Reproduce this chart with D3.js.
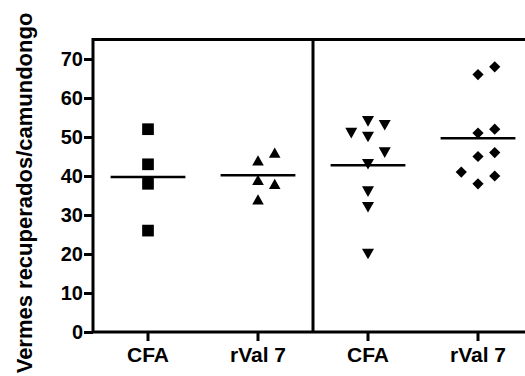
<!DOCTYPE html>
<html>
<head>
<meta charset="utf-8">
<script src="https://cdn.jsdelivr.net/npm/d3@7/dist/d3.min.js"></script>
<style>
  html, body { margin: 0; padding: 0; background: #fff; }
  svg { display: block; font-family: "Liberation Sans", Arial, Helvetica, sans-serif; font-weight: bold; }
</style>
</head>
<body>
<svg id="chart" width="525" height="376"></svg>
<script>
// Worms recovered per mouse, two experiments (CFA control vs rVal 7)
const groupLabels = ["CFA", "rVal 7", "CFA", "rVal 7"];
const cfaExp1   = [52, 43, 38, 26];
const rval7Exp1 = [44, 46, 39, 38, 34];
const cfaExp2   = [50, 53, 51, 54, 43, 46, 32, 36, 20];
const rval7Exp2 = [66, 68, 51, 52, 45, 46, 38, 40, 41];
const yTicks = [0, 10, 20, 30, 40, 50, 60, 70];
const yTitle = "Vermes recuperados/camundongo";

const groups = [cfaExp1, rval7Exp1, cfaExp2, rval7Exp2];

const svg = d3.select("#chart");
const plotL = 93, plotR = 533, plotT = 39.5, plotB = 332;

const x = d3.scaleBand().domain(d3.range(groups.length)).range([plotL, plotR]).padding(0);
const y = d3.scaleLinear().domain([0, 75]).range([plotB, plotT]);
const bw = x.bandwidth();

// Marker shapes, each centred on its bounding box; size is the box width
const mk = (fn) => ({ draw: fn });
const shapes = [
  mk((c, s) => { const h = s / 2; c.moveTo(-h, -h); c.lineTo(h, -h); c.lineTo(h, h); c.lineTo(-h, h); c.closePath(); }),
  mk((c, s) => { const w = s / 2, h = s * 0.44; c.moveTo(0, -h); c.lineTo(w, h); c.lineTo(-w, h); c.closePath(); }),
  mk((c, s) => { const w = s / 2, h = s * 0.44; c.moveTo(-w, -h); c.lineTo(w, -h); c.lineTo(0, h); c.closePath(); }),
  mk((c, s) => { const h = s / 2; c.moveTo(0, -h); c.lineTo(h, 0); c.lineTo(0, h); c.lineTo(-h, 0); c.closePath(); })
];
const shapeSize = [11.7, 11.6, 12, 11.2];

// Simple column-scatter dodge: centre first, then right, then left
function dodge(values, minGap) {
  const placed = [];
  return values.map(v => {
    const py = y(v);
    const order = [0, 1, -1];
    let slot = order.find(s => placed.every(p => p.slot !== s || Math.abs(p.py - py) >= minGap));
    if (slot === undefined) {
      slot = d3.greatest(order, s => d3.min(placed.filter(p => p.slot === s), p => Math.abs(p.py - py)) ?? Infinity);
    }
    placed.push({ py, slot });
    return { v, slot };
  });
}

// Frame
svg.append("rect")
  .attr("x", plotL).attr("y", plotT)
  .attr("width", plotR - plotL).attr("height", plotB - plotT)
  .attr("fill", "none").attr("stroke", "#000").attr("stroke-width", 3);

// Divider between the two experiments
svg.append("line")
  .attr("x1", x(2)).attr("x2", x(2))
  .attr("y1", plotT).attr("y2", plotB)
  .attr("stroke", "#000").attr("stroke-width", 3);

// Axes
const yAxis = svg.append("g")
  .attr("transform", `translate(${plotL},0)`)
  .call(d3.axisLeft(y).tickValues(yTicks).tickSize(9).tickPadding(1));
const xAxis = svg.append("g")
  .attr("transform", `translate(0,${plotB})`)
  .call(d3.axisBottom(x).tickSize(9).tickPadding(6).tickFormat(i => groupLabels[i]));

[yAxis, xAxis].forEach(g => {
  g.select(".domain").remove();
  g.selectAll(".tick line").attr("stroke", "#000").attr("stroke-width", 3);
  g.selectAll(".tick text").attr("fill", "#000")
    .attr("font-family", "'Liberation Sans', Arial, sans-serif").attr("font-weight", "bold");
});
yAxis.selectAll(".tick text").attr("font-size", 20);
xAxis.selectAll(".tick text").attr("font-size", 21);

// Points and mean lines
groups.forEach((vals, gi) => {
  const cx = x(gi) + bw / 2;
  const pts = dodge(vals, 13.6);
  const sym = d3.symbol().type(shapes[gi]).size(shapeSize[gi]);
  svg.append("g").selectAll("path")
    .data(pts)
    .join("path")
    .attr("d", sym)
    .attr("transform", d => `translate(${cx + d.slot * bw * 0.152},${y(d.v)})`)
    .attr("fill", "#000");

  const m = d3.mean(vals);
  svg.append("line")
    .attr("x1", cx - bw * 0.34).attr("x2", cx + bw * 0.34)
    .attr("y1", y(m)).attr("y2", y(m))
    .attr("stroke", "#000").attr("stroke-width", 2.5);
});

// Y axis title
svg.append("text")
  .attr("transform", "translate(31.5,193) rotate(-90)")
  .attr("text-anchor", "middle")
  .attr("font-size", 22)
  .attr("fill", "#000")
  .text(yTitle);
</script>
</body>
</html>
